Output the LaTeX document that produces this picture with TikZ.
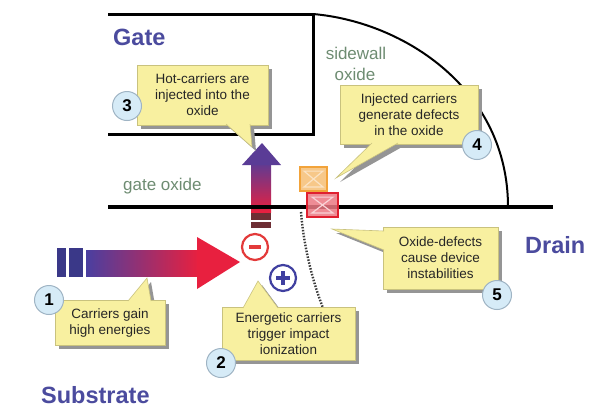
\documentclass[tikz,border=0pt]{standalone}
\usepackage{fontspec}
\setmainfont{Liberation Sans}

\definecolor{labelblue}{HTML}{4B4B9E}
\definecolor{oxidegreen}{HTML}{6E8C72}
\definecolor{notefill}{HTML}{F8F0A0}
\definecolor{noteline}{HTML}{C9C27E}
\definecolor{shadowgray}{HTML}{959595}
\definecolor{stepfill}{HTML}{D6EBF7}
\definecolor{stepline}{HTML}{9FB4C4}
\definecolor{hotblue}{HTML}{4A3FA0}
\definecolor{hotred}{HTML}{E8203F}
\definecolor{navybar}{HTML}{3A3888}
\definecolor{maroonbar}{HTML}{6E2E34}
\definecolor{chargered}{HTML}{E33A3A}
\definecolor{chargeblue}{HTML}{4040A0}
\definecolor{defectorange}{HTML}{F2A33A}
\definecolor{defectred}{HTML}{E02030}
\definecolor{dotgray}{HTML}{3A3A3A}

\begin{document}
\begin{tikzpicture}[x=1pt,y=-1pt,
  notebox/.style={rectangle, draw=noteline, line width=0.6pt, fill=notefill,
    inner sep=0pt, align=center, text=black!85,
    font=\fontsize{13.5}{16}\selectfont,
    preaction={draw=none, fill=shadowgray, transform canvas={shift={(4pt,-4pt)}}}},
  tipshadow/.style={fill=shadowgray, transform canvas={shift={(4pt,-4pt)}}},
  notetip/.style={draw=noteline, line width=0.6pt, fill=notefill, line join=miter},
  stepnum/.style={circle, draw=stepline, line width=1pt, fill=stepfill,
    minimum size=29pt, inner sep=0pt, font=\fontsize{17}{17}\selectfont\bfseries},
  heading/.style={font=\fontsize{23.5}{24}\selectfont\bfseries, text=labelblue, inner sep=0pt},
  oxlabel/.style={font=\fontsize{17}{19}\selectfont, text=oxidegreen, inner sep=0pt},
  charge/.style={circle, minimum size=26pt, inner sep=0pt, line width=2.2pt, fill=white},
  defect/.style={rectangle, minimum width=#1, minimum height=24pt, inner sep=0pt, line width=1.8pt}]

\useasboundingbox (0,0) rectangle (604,416);
\fill[white] (0,0) rectangle (604,416);

% gate electrode and sidewall spacer
\coordinate (gtl) at (108,14);
\coordinate (gtr) at (313,14);
\coordinate (gbr) at (313,134);
\coordinate (gbl) at (108,134);
\coordinate (swend) at (508,207);
\draw[line width=3pt] (gtl) -- (gtr) -- (gbr) -- (gbl);
\draw[line width=2pt] (gtr) .. controls (405,22) and (508,90) .. (swend);

% carrier path: horizontal drift, then injection upward
\fill[navybar] (57,248) rectangle (66,277);
\fill[navybar] (69,248) rectangle (83,277);
\shade[left color=hotblue, right color=hotred] (86,250) rectangle (199,276);
\fill[hotred] (197,237) -- (240,262) -- (197,289) -- cycle;

\fill[maroonbar] (251,213) rectangle (271,220);
\fill[maroonbar] (251,222) rectangle (271,228);
\shade[top color=hotblue!85!hotred, bottom color=hotred] (251,164) rectangle (271,212);
\fill[hotblue!90!hotred] (242,165) -- (262,143) -- (281,165) -- cycle;

% gate oxide interface
\coordinate (oxl) at (108,207);
\coordinate (oxr) at (553,207);
\draw[line width=4pt] (oxl) -- (oxr);

% oxide defects
\node[defect=27pt, draw=defectorange, fill=defectorange!60] (d1) at (313.5,179) {};
\draw[white!70!defectorange, line width=1.2pt]
  ([shift={(5,5)}]d1.north west) -- ([shift={(-5,5)}]d1.north east)
  -- ([shift={(5,-5)}]d1.south west) -- ([shift={(-5,-5)}]d1.south east) -- cycle;
\node[defect=31pt, draw=defectred, fill=defectred!60, fill opacity=0.85] (d2) at (322.5,205) {};
\draw[white!80!defectred, line width=1.2pt]
  ([shift={(6,5)}]d2.north west) -- ([shift={(-6,5)}]d2.north east)
  -- ([shift={(6,-5)}]d2.south west) -- ([shift={(-6,-5)}]d2.south east) -- cycle;

% generated charges
\node[charge, draw=chargered] (minus) at (255,247) {};
\draw[chargered, line width=3.5pt] (minus.center) ++(-6,0) -- ++(12,0);
\node[charge, draw=chargeblue] (plus) at (283,278) {};
\draw[chargeblue, line width=3.5pt] (plus.center) ++(-7,0) -- ++(14,0);
\draw[chargeblue, line width=3.5pt] (plus.center) ++(0,-7) -- ++(0,14);

% dotted link from the defect site
\coordinate (dotA) at (301,212);
\coordinate (dotB) at (323,308);
\draw[dotgray, line width=2.4pt, dash pattern=on 1.5pt off 1.5pt]
  (dotA) .. controls (304,250) and (314,285) .. (dotB);

% region labels
\node[heading, anchor=base west] (gate) at (113,45) {Gate};
\node[heading, anchor=base west] (drain) at (525,253) {Drain};
\node[heading, anchor=base west] (substrate) at (41,403) {Substrate};
\node[oxlabel, anchor=base west] (gox) at (123,190) {gate oxide};
\node[oxlabel, anchor=base] (sw1) at (356,59) {sidewall};
\node[oxlabel, anchor=base] (sw2) at (355,80) {oxide};

% callouts: pointer shadow, box, pointer
\coordinate (t3a) at (226,124); \coordinate (t3) at (252,147); \coordinate (t3b) at (250,124);
\fill[tipshadow] (t3a) -- (t3) -- (t3b) -- cycle;
\node[notebox, minimum width=131pt, minimum height=60pt] (n3) at (202.5,95)
  {Hot-carriers are\\injected into the\\oxide};
\draw[notetip] (t3a) -- (t3) -- (t3b);

\coordinate (t4a) at (372,143); \coordinate (t4) at (336,178); \coordinate (t4b) at (398,143);
\fill[tipshadow] (t4a) -- (t4) -- (t4b) -- cycle;
\node[notebox, minimum width=138pt, minimum height=59pt] (n4) at (409,114.5)
  {Injected carriers\\generate defects\\in the oxide};
\draw[notetip] (t4a) -- (t4) -- (t4b);

\coordinate (t1a) at (128,301); \coordinate (t1) at (147,278); \coordinate (t1b) at (151,301);
\fill[tipshadow] (t1a) -- (t1) -- (t1b) -- cycle;
\node[notebox, minimum width=110pt, minimum height=45pt] (n1) at (110,322.5)
  {Carriers gain\\high energies};
\draw[notetip] (t1a) -- (t1) -- (t1b);

\coordinate (t2a) at (243,308); \coordinate (t2) at (258,281); \coordinate (t2b) at (278,308);
\fill[tipshadow] (t2a) -- (t2) -- (t2b) -- cycle;
\node[notebox, minimum width=133pt, minimum height=53pt] (n2) at (288.5,333.5)
  {Energetic carriers\\trigger impact\\ionization};
\draw[notetip] (t2a) -- (t2) -- (t2b);

\coordinate (t5a) at (384,231); \coordinate (t5) at (332,229); \coordinate (t5b) at (384,250);
\fill[tipshadow] (t5a) -- (t5) -- (t5b) -- cycle;
\node[notebox, minimum width=115pt, minimum height=62pt] (n5) at (440.5,258)
  {Oxide-defects\\cause device\\instabilities};
\draw[notetip] (t5a) -- (t5) -- (t5b);

% step numbers
\node[stepnum] (s1) at (49,300) {1};
\node[stepnum] (s2) at (221,363) {2};
\node[stepnum] (s3) at (127,106) {3};
\node[stepnum] (s4) at (477,145) {4};
\node[stepnum] (s5) at (497,295) {5};

\end{tikzpicture}
\end{document}
